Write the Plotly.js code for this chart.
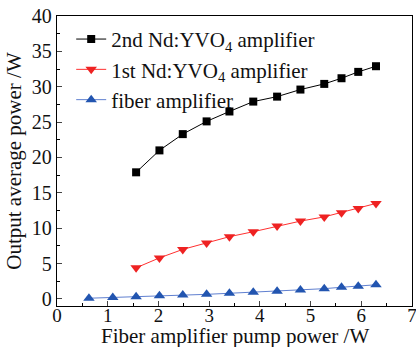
<!DOCTYPE html>
<html>
<head>
<meta charset="utf-8">
<script src="https://cdn.plot.ly/plotly-3.0.1.min.js"></script>
<style>
html,body{margin:0;padding:0;background:#fff;}
#chart{width:416px;height:347px;}
</style>
</head>
<body>
<div id="chart"></div>
<script>
var pumpX = [1.56, 2.02, 2.48, 2.95, 3.40, 3.87, 4.34, 4.80, 5.27, 5.61, 5.94, 6.29];
var second = [17.9, 21.0, 23.3, 25.1, 26.5, 27.9, 28.6, 29.6, 30.4, 31.2, 32.1, 32.9];
var first = [4.4, 5.8, 7.0, 7.9, 8.8, 9.5, 10.3, 11.0, 11.6, 12.2, 12.8, 13.5];
var fiberX = [0.63, 1.10, 1.56, 2.02, 2.48, 2.95, 3.40, 3.87, 4.34, 4.80, 5.27, 5.61, 5.94, 6.29];
var fiber = [0.1, 0.2, 0.3, 0.45, 0.55, 0.65, 0.8, 0.95, 1.1, 1.25, 1.45, 1.65, 1.8, 2.0];
var names = ["2nd Nd:YVO<sub>4</sub> amplifier", "1st Nd:YVO<sub>4</sub> amplifier", "fiber amplifier"];
var xTitle = "Fiber amplifier pump power /W";
var yTitle = "Output average power /W";

var font = "Liberation Serif";
var traces = [
  {x: pumpX, y: second, name: names[0], mode: "lines+markers",
   line: {color: "#000000", width: 1}, marker: {symbol: "square", size: 8, color: "#000000"}},
  {x: pumpX, y: first, name: names[1], mode: "lines+markers",
   line: {color: "#ff3030", width: 1}, marker: {symbol: "triangle-down", size: 10, color: "#ee2222"}},
  {x: fiberX, y: fiber, name: names[2], mode: "lines+markers",
   line: {color: "#6080d0", width: 1}, marker: {symbol: "triangle-up", size: 10, color: "#2255b0"}}
];
var layout = {
  width: 416, height: 347,
  margin: {l: 57, r: 4, t: 16, b: 41},
  paper_bgcolor: "#ffffff", plot_bgcolor: "#ffffff",
  font: {family: font, size: 20, color: "#111"},
  showlegend: true,
  legend: {x: 0.04, y: 0.99, xanchor: "left", yanchor: "top", bgcolor: "rgba(0,0,0,0)",
           font: {family: font, size: 21, color: "#111"}, tracegroupgap: 0, itemwidth: 30},
  xaxis: {
    range: [0, 7], dtick: 1, tick0: 0, ticks: "inside", ticklen: 5, tickwidth: 1,
    showline: true, linecolor: "#000", linewidth: 1.2, mirror: true, showgrid: false, zeroline: false,
    minor: {dtick: 0.5, ticks: "inside", ticklen: 3, tickcolor: "#000"},
    tickfont: {family: font, size: 19}, ticklabelstandoff: -8, ticklabeloverflow: "allow",
    automargin: false
  },
  yaxis: {
    range: [-1, 40], dtick: 5, tick0: 0, ticks: "inside", ticklen: 5, tickwidth: 1,
    showline: true, linecolor: "#000", linewidth: 1.2, mirror: true, showgrid: false, zeroline: false,
    minor: {dtick: 2.5, ticks: "inside", ticklen: 3, tickcolor: "#000"},
    tickfont: {family: font, size: 20}, automargin: false, ticklabeloverflow: "allow",
    title: {text: yTitle, font: {family: font, size: 21}, standoff: 4}
  },
  annotations: [{
    text: xTitle, xref: "paper", yref: "paper", x: 0.5, y: 0, xanchor: "center", yanchor: "top",
    yshift: -17, borderpad: 0, showarrow: false, font: {family: font, size: 21, color: "#111"}
  }]
};
Plotly.newPlot("chart", traces, layout, {displayModeBar: false, staticPlot: true});
</script>
</body>
</html>
